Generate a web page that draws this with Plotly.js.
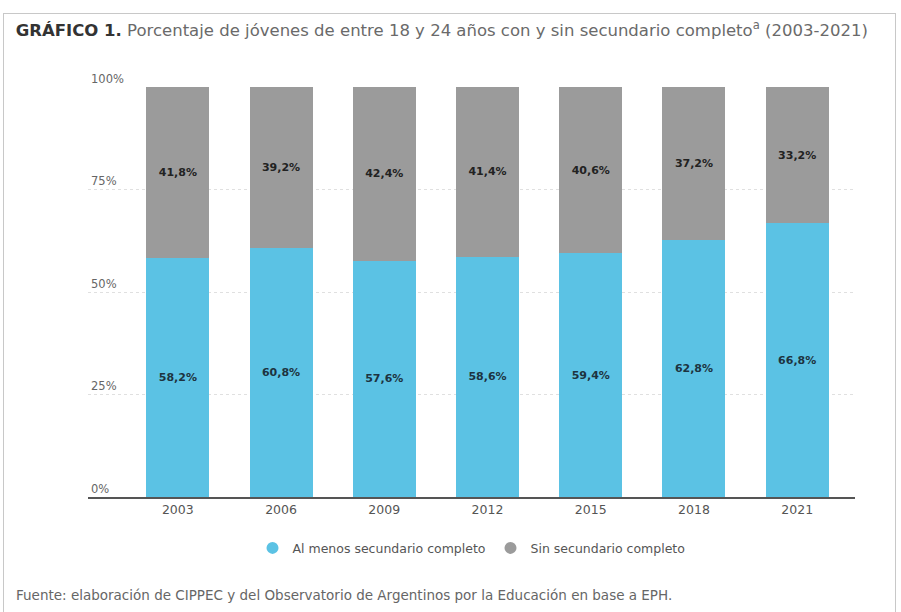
<!DOCTYPE html>
<html>
<head>
<meta charset="utf-8">
<script src="https://cdn.plot.ly/plotly-3.0.1.min.js"></script>
<style>
  html, body { margin: 0; padding: 0; background: #fff; }
  #frame { position: absolute; left: 3px; top: 13px; width: 893px; height: 605px; border: 1px solid #c8c8c8; box-sizing: border-box; }
  #chart { position: absolute; left: 0; top: 0; width: 901px; height: 612px; }
</style>
</head>
<body>
<div id="frame"></div>
<div id="chart"></div>
<script>
const years = ['2003', '2006', '2009', '2012', '2015', '2018', '2021'];
const conSecundario = [58.2, 60.8, 57.6, 58.6, 59.4, 62.8, 66.8];
const sinSecundario = [41.8, 39.2, 42.4, 41.4, 40.6, 37.2, 33.2];
const seriesNames = ['Al menos secundario completo', 'Sin secundario completo'];
const yTickVals = [0, 25, 50, 75, 100];
const yTickText = ['0%', '25%', '50%', '75%', '100%'];

const fmt = v => v.toFixed(1).replace('.', ',') + '%';
const blue = '#5bc2e4';
const gray = '#9b9b9b';
const FONT = 'DejaVu Sans';

const traces = [
  {
    type: 'bar', x: years, y: conSecundario, name: seriesNames[0],
    marker: { color: blue }, width: 0.61,
    text: conSecundario.map(fmt), textposition: 'inside', insidetextanchor: 'middle',
    textfont: { family: FONT, size: 11, color: '#1d3340', weight: 700 },
    showlegend: false, hoverinfo: 'skip'
  },
  {
    type: 'bar', x: years, y: sinSecundario, name: seriesNames[1],
    marker: { color: gray }, width: 0.61,
    text: sinSecundario.map(fmt), textposition: 'inside', insidetextanchor: 'middle',
    textfont: { family: FONT, size: 11, color: '#222', weight: 700 },
    showlegend: false, hoverinfo: 'skip'
  },
  {
    type: 'scatter', mode: 'markers', x: [null], y: [null], name: seriesNames[0],
    marker: { color: blue, size: 13, symbol: 'circle' }, showlegend: true
  },
  {
    type: 'scatter', mode: 'markers', x: [null], y: [null], name: seriesNames[1],
    marker: { color: gray, size: 13, symbol: 'circle' }, showlegend: true
  }
];

const layout = {
  width: 901, height: 612,
  paper_bgcolor: 'rgba(0,0,0,0)', plot_bgcolor: 'rgba(0,0,0,0)',
  margin: { l: 88, r: 46, t: 87, b: 115 },
  barmode: 'stack',
  font: { family: FONT, color: '#555' },
  title: {
    text: '<b><span style="font-size:16.5px">GRÁFICO 1.</span></b> <span style="color:#6a6a6a">Porcentaje de jóvenes de entre 18 y 24 años con y sin secundario completo<sup>a</sup> (2003-2021)</span>',
    font: { family: FONT, size: 16.5, color: '#333' },
    x: 0.0175, xanchor: 'left', xref: 'container', y: 0.95, yanchor: 'middle', yref: 'container'
  },
  xaxis: {
    type: 'category', range: [-0.87, 6.56],
    showgrid: false, showline: true, linecolor: '#555', linewidth: 1.5,
    tickfont: { family: FONT, size: 12.5, color: '#555' },
    ticks: '', fixedrange: true
  },
  yaxis: {
    range: [0, 100], tickvals: yTickVals, ticktext: yTickText,
    ticklabelposition: 'inside top', ticklabeloverflow: 'allow',
    showgrid: true, gridcolor: '#e0e0e0', griddash: 'dot', gridwidth: 1,
    zeroline: false, showline: false,
    tickfont: { family: FONT, size: 11.5, color: '#666' },
    fixedrange: true
  },
  legend: {
    orientation: 'h', x: 0.5, xanchor: 'center', y: -0.125, yanchor: 'middle',
    traceorder: 'normal',
    font: { family: FONT, size: 12.5, color: '#555' },
    itemsizing: 'constant', itemwidth: 30
  },
  annotations: [
    {
      text: 'Fuente: elaboración de CIPPEC y del Observatorio de Argentinos por la Educación en base a EPH.',
      xref: 'paper', yref: 'paper', x: -0.096, y: -0.24, xanchor: 'left', yanchor: 'middle',
      showarrow: false, font: { family: FONT, size: 13.5, color: '#666' }
    }
  ],
  showlegend: true
};

Plotly.newPlot('chart', traces, layout, { displayModeBar: false, staticPlot: true });
</script>
</body>
</html>
